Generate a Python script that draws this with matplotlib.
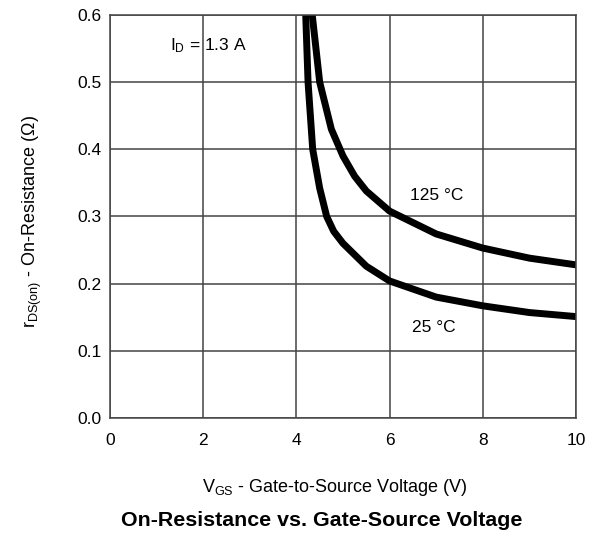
import matplotlib
matplotlib.use("Agg")
import matplotlib.pyplot as plt

plt.rcParams['font.family'] = ['Liberation Sans', 'DejaVu Sans']
plt.rcParams['mathtext.fontset'] = 'custom'
plt.rcParams['mathtext.rm'] = 'Liberation Sans'
plt.rcParams['mathtext.it'] = 'Liberation Sans:italic'
plt.rcParams['mathtext.bf'] = 'Liberation Sans:bold'

# Data
vgs_125 = [4.34, 4.5, 4.75, 5.0, 5.25, 5.5, 6.0, 7.0, 8.0, 9.0, 10.0]
rds_125 = [0.60, 0.50, 0.43, 0.39, 0.36, 0.338, 0.308, 0.274, 0.253, 0.238, 0.228]
vgs_25 = [4.2, 4.25, 4.35, 4.5, 4.65, 4.8, 5.0, 5.5, 6.0, 7.0, 8.0, 9.0, 10.0]
rds_25 = [0.60, 0.50, 0.40, 0.342, 0.30, 0.278, 0.26, 0.226, 0.204, 0.180, 0.167, 0.157, 0.151]
xticks = [0, 2, 4, 6, 8, 10]
yticks = [0.0, 0.1, 0.2, 0.3, 0.4, 0.5, 0.6]

fig = plt.figure(figsize=(5.96, 5.33), dpi=100)
ax = fig.add_axes([110/596, 1-418/533, 466/596, 403/533])

ax.plot(vgs_125, rds_125, color='black', lw=5, solid_joinstyle='round', solid_capstyle='butt')
ax.plot(vgs_25, rds_25, color='black', lw=5, solid_joinstyle='round', solid_capstyle='butt')

ax.set_xlim(0, 10)
ax.set_ylim(0, 0.6)
ax.set_xticks(xticks)
ax.set_yticks(yticks)
ax.set_xticklabels([str(t) for t in xticks])
ax.set_yticklabels([f"{t:.1f}" for t in yticks])
ax.tick_params(length=0, labelsize=12.5)
ax.tick_params(axis='x', pad=11)
ax.tick_params(axis='y', pad=6)
ax.grid(True, color='#444444', lw=1.1)
for s in ax.spines.values():
    s.set_color('#444444')
    s.set_linewidth(1.1)

ax.text(1.29, 0.555, r'I$_{\mathrm{D}}$ = 1.3 A', fontsize=12.5, va='center', ha='left')
ax.text(6.44, 0.332, '125 °C', fontsize=12.5, va='center', ha='left')
ax.text(6.48, 0.135, '25 °C', fontsize=12.5, va='center', ha='left')

fig.text(335/596, 1-488/533, r'V$_{\mathrm{GS}}$ - Gate-to-Source Voltage (V)', fontsize=13, ha='center', va='center')
fig.text(322/596, 1-520/533, 'On-Resistance vs. Gate-Source Voltage', fontsize=15.4, fontweight='bold', ha='center', va='center')
fig.text(32/596, 1-222/533, r'r$_{\mathrm{DS(on)}}$ - On-Resistance (Ω)', fontsize=13, rotation=90, ha='center', va='center')

fig.savefig('out.png', dpi=100)
